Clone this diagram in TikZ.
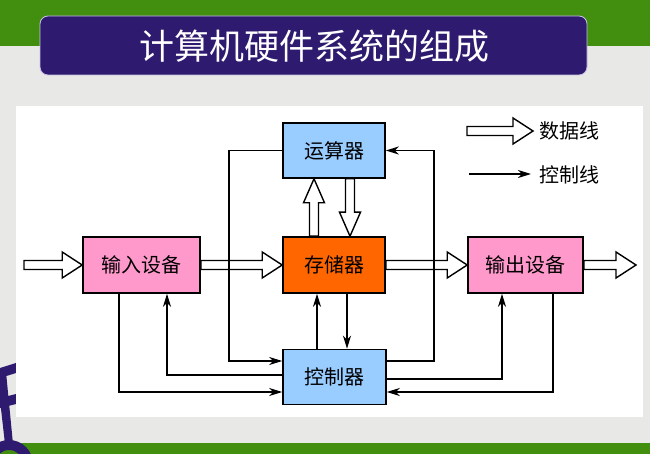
\documentclass[tikz,border=0pt]{standalone}
\usepackage{fontspec}
\setmainfont{Noto Sans CJK SC}
\usetikzlibrary{arrows.meta,calc}
\definecolor{bggray}{HTML}{E8E8E6}
\definecolor{topgreen}{HTML}{428F10}
\definecolor{deeppurple}{HTML}{2E1A6E}
\definecolor{titleedge}{HTML}{C9C2E6}
\definecolor{boxblue}{HTML}{99CCFF}
\definecolor{boxorange}{HTML}{FF6600}
\definecolor{boxpink}{HTML}{FF99CC}
\tikzset{
  unit/.style={draw=black, line width=1.6pt, inner sep=0pt, font=\fontsize{20}{22}\selectfont},
  wide/.style={draw=black, fill=white, line width=1.4pt, line join=miter},
  ctrl/.style={draw=black, line width=1.5pt, -{Stealth[length=13pt,width=8pt,inset=4pt]}},
}
\newcommand\hwide[2]{\draw[wide] ($(#1)+(0,-4.5)$) -- ($(#2)+(-20,-4.5)$) -- ($(#2)+(-20,-13)$) -- (#2) -- ($(#2)+(-20,13)$) -- ($(#2)+(-20,4.5)$) -- ($(#1)+(0,4.5)$) -- cycle;}
\newcommand\uwide[2]{\draw[wide] ($(#1)+(-4.5,0)$) -- ($(#2)+(-4.5,24)$) -- ($(#2)+(-10.5,24)$) -- (#2) -- ($(#2)+(10.5,24)$) -- ($(#2)+(4.5,24)$) -- ($(#1)+(4.5,0)$) -- cycle;}
\newcommand\dwide[2]{\draw[wide] ($(#1)+(-4.5,0)$) -- ($(#2)+(-4.5,-24)$) -- ($(#2)+(-10.5,-24)$) -- (#2) -- ($(#2)+(10.5,-24)$) -- ($(#2)+(4.5,-24)$) -- ($(#1)+(4.5,0)$) -- cycle;}
\begin{document}
\begin{tikzpicture}[x=1pt,y=-1pt]
\useasboundingbox (0,0) rectangle (650,454);
% background
\fill[bggray] (0,0) rectangle (650,454);
\fill[topgreen] (0,0) rectangle (650,46);
\fill[topgreen] (0,443) rectangle (650,454);
% purple decoration bottom-left
\fill[deeppurple] (0,368) -- (16,363) -- (16,373) -- (0,378) -- cycle;
\fill[deeppurple] (0,398) -- (16,394) -- (16,404) -- (0,408) -- cycle;
\fill[deeppurple] (0,372) -- (6,372) -- (13,444) -- (5,444) -- (0,400) -- cycle;
\fill[deeppurple, even odd rule] (9,464) circle (24) (9,464) circle (14);
% white panel
\fill[white] (16,106) rectangle (643,417);
% title
\draw[fill=deeppurple, draw=titleedge, line width=0.8pt, rounded corners=8pt] (40,16) rectangle (587,75);
\node[text=white, font=\fontsize{35}{38}\selectfont] (title) at (314,46) {计算机硬件系统的组成};
% units
\node[unit, fill=boxblue, minimum width=102pt, minimum height=55pt] (alu) at (334,150.5) {运算器};
\node[unit, fill=boxorange, minimum width=102pt, minimum height=56pt] (mem) at (334,265) {存储器};
\node[unit, fill=boxpink, minimum width=117pt, minimum height=56pt] (in) at (141.5,265) {输入设备};
\node[unit, fill=boxpink, minimum width=115pt, minimum height=56pt] (out) at (525.5,265) {输出设备};
\node[unit, fill=boxblue, minimum width=103pt, minimum height=55pt] (ctl) at (334.5,377) {控制器};
% free ends
\coordinate (src) at (24,265);
\coordinate (dst) at (636,265);
\coordinate (upfrom) at ($(mem.north)+(-20,0)$);
\coordinate (upto) at ($(alu.south)+(-20,0)$);
\coordinate (dnfrom) at ($(alu.south)+(16,0)$);
\coordinate (dnto) at ($(mem.north)+(16,0)$);
% data lines
\hwide{src}{in.west}
\hwide{in.east}{mem.west}
\hwide{mem.east}{out.west}
\hwide{out.east}{dst}
\uwide{upfrom}{upto}
\dwide{dnfrom}{dnto}
% control lines
\draw[ctrl] (alu.west) -- ++(-53,0) |- ($(ctl.west)+(0,-16)$);
\draw[ctrl] ($(ctl.east)+(0,-16)$) -- ++(47,0) |- (alu.east);
\draw[ctrl] ($(ctl.north)+(-17.5,0)$) -- ($(mem.south)+(-17,0)$);
\draw[ctrl] ($(mem.south)+(13,0)$) -- ($(ctl.north)+(12.5,0)$);
\draw[ctrl] ($(ctl.west)+(0,-2)$) -| ($(in.south)+(25.5,0)$);
\draw[ctrl] ($(in.south)+(-22.5,0)$) |- ($(ctl.west)+(0,15)$);
\draw[ctrl] ($(ctl.east)+(0,2)$) -| ($(out.south)+(-23.5,0)$);
\draw[ctrl] ($(out.south)+(27.5,0)$) |- ($(ctl.east)+(0,15)$);
% legend
\coordinate (lg1a) at (467,131);
\coordinate (lg1b) at (533,131);
\hwide{lg1a}{lg1b}
\coordinate (lg2a) at (469,174);
\coordinate (lg2b) at (531,174);
\draw[ctrl] (lg2a) -- (lg2b);
\node[anchor=west, font=\fontsize{20}{22}\selectfont] (lt1) at (536,131) {数据线};
\node[anchor=west, font=\fontsize{20}{22}\selectfont] (lt2) at (536,175) {控制线};
\end{tikzpicture}
\end{document}
